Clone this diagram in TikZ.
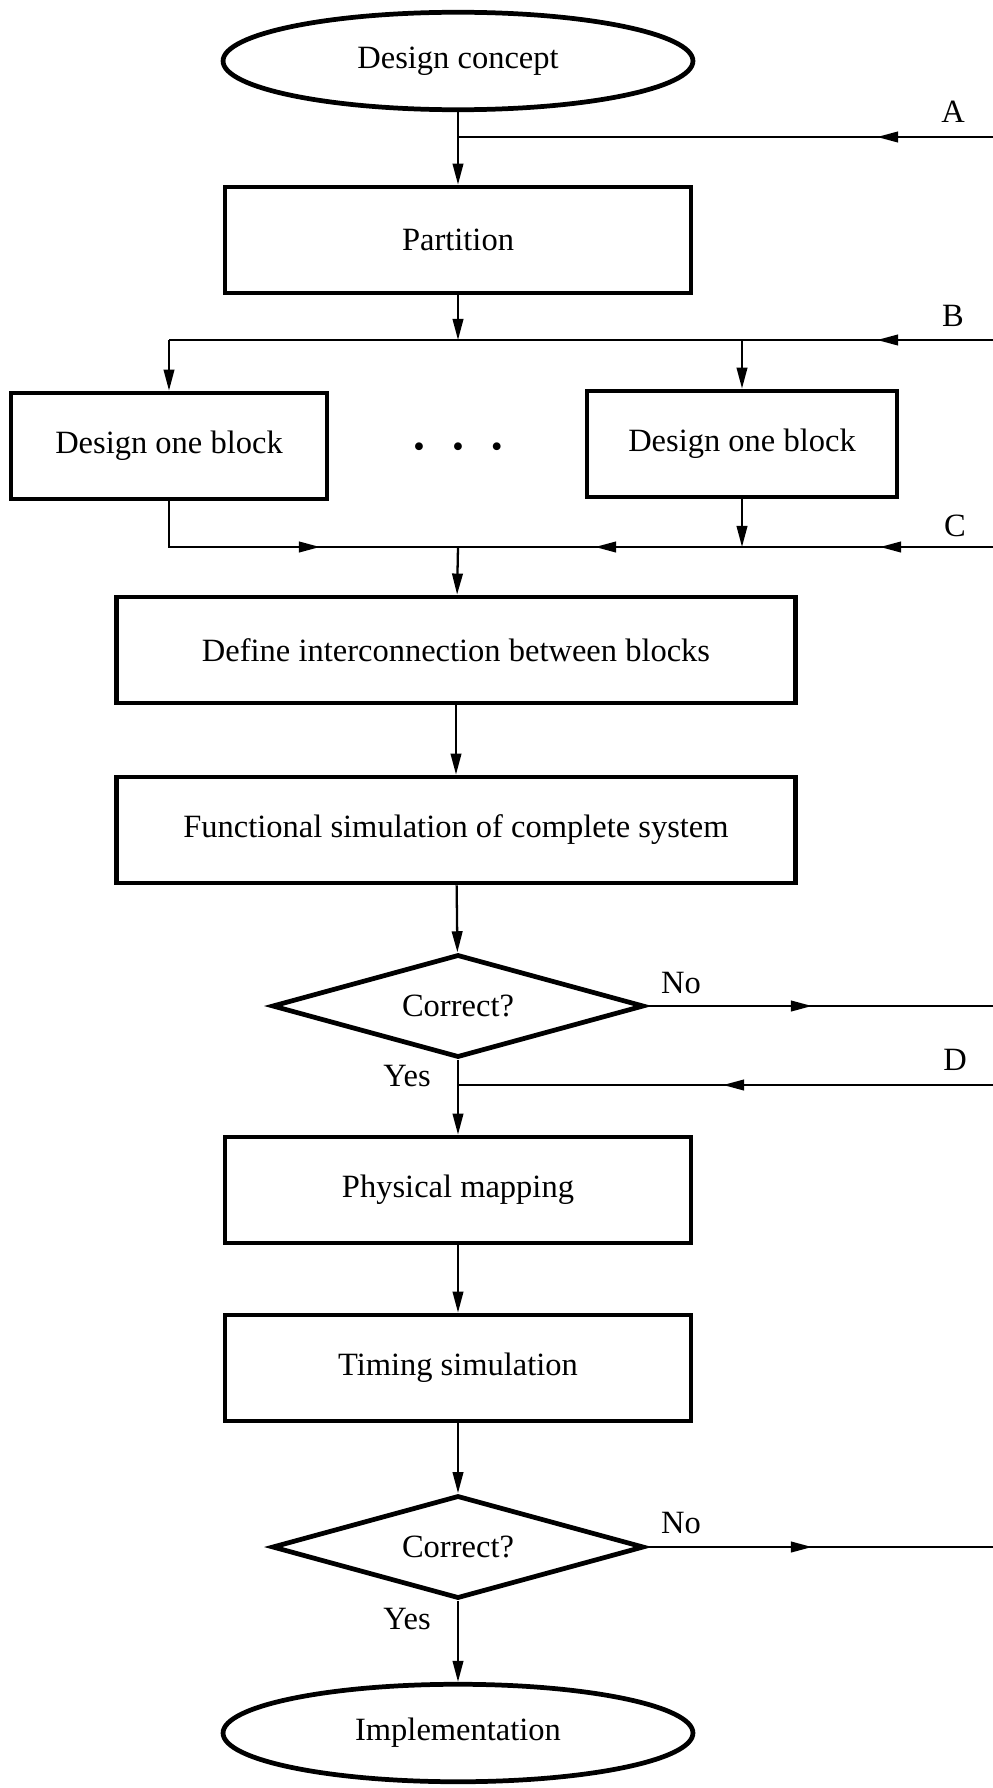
\documentclass[tikz,border=0pt]{standalone}
\usepackage{fontspec}
\setmainfont{Liberation Serif}
\usetikzlibrary{shapes.geometric,arrows.meta}

\tikzset{
  box/.style={draw, rectangle, line width=2.7pt, minimum width=9.32cm, minimum height=2.12cm, inner sep=0pt},
  term/.style={draw, ellipse, line width=2.7pt, minimum width=9.4cm, minimum height=1.95cm, inner sep=0pt},
  test/.style={draw, diamond, aspect=3.6, line width=2.7pt, minimum width=7.44cm, minimum height=2.06cm, inner sep=0pt},
  wire/.style={line width=1.3pt},
  flow/.style={wire, -{Triangle[length=12pt,width=6pt]}},
  tag/.style={inner sep=0pt},
}

\begin{document}
\begin{tikzpicture}[x=0.02cm, y=-0.02cm, font=\fontsize{18.5}{22}\selectfont]
      \useasboundingbox (0,0) rectangle (993,1788);
      % Blocks:
      \node[term](concept) at (458,61){Design concept};
      \node[box](part) at (458,240){Partition};
      \node[box, minimum width=6.32cm](blkL) at (169,446){Design one block};
      \node[tag](dots) at (458,450){\textbullet\hspace{0.55cm}\textbullet\hspace{0.55cm}\textbullet};
      \node[box, minimum width=6.2cm](blkR) at (742,444){Design one block};
      \node[box, minimum width=13.58cm](defn) at (456,650){Define interconnection between blocks};
      \node[box, minimum width=13.58cm](func) at (456,830){Functional simulation of complete system};
      \node[test](chkA) at (458,1006){Correct?};
      \node[box](phys) at (458,1190){Physical mapping};
      \node[box](timing) at (458,1368){Timing simulation};
      \node[test](chkB) at (458,1547){Correct?};
      \node[term](impl) at (458,1733){Implementation};

      % Joints and free ends on the right edge:
      \coordinate (Ain) at (993,137);   \coordinate (Ajoin) at (458,137);  \coordinate (Atip) at (877,137);
      \coordinate (Bin) at (993,340);   \coordinate (Bjoin) at (458,340);  \coordinate (Btip) at (877,340);
      \coordinate (BL) at (169,340);    \coordinate (BR) at (742,340);
      \coordinate (Cin) at (993,547);   \coordinate (Cjoin) at (458,547);  \coordinate (Ctip) at (880,547);
      \coordinate (Cmid) at (595,547);  \coordinate (CL) at (169,547);     \coordinate (CLtip) at (320,547);
      \coordinate (CR) at (742,547);
      \coordinate (Din) at (993,1085);  \coordinate (Djoin) at (458,1085); \coordinate (Dtip) at (723,1085);
      \coordinate (NoA) at (993,1006);  \coordinate (NoAtip) at (812,1006);
      \coordinate (NoB) at (993,1547);  \coordinate (NoBtip) at (812,1547);

      % Wires:
      \draw[flow] (concept) -- (part);
      \draw[wire] (Ain) -- (Ajoin);
      \draw[flow] (Ain) -- (Atip);
      \draw[flow] (part) -- (Bjoin);
      \draw[wire] (Bin) -- (BL);
      \draw[flow] (Bin) -- (Btip);
      \draw[flow] (BL) -- (blkL);
      \draw[flow] (BR) -- (blkR);
      \draw[wire] (blkL) |- (Cjoin);
      \draw[flow] (CL) -- (CLtip);
      \draw[flow] (blkR) -- (CR);
      \draw[wire] (Cin) -- (Cjoin);
      \draw[flow] (Cin) -- (Ctip);
      \draw[flow] (Cin) -- (Cmid);
      \draw[flow] (Cjoin) -- (defn);
      \draw[flow] (defn) -- (func);
      \draw[flow] (func) -- (chkA);
      \draw[wire] (chkA.east) -- (NoA);
      \draw[flow] (chkA.east) -- (NoAtip);
      \draw[flow] (chkA) -- (phys);
      \draw[wire] (Din) -- (Djoin);
      \draw[flow] (Din) -- (Dtip);
      \draw[flow] (phys) -- (timing);
      \draw[flow] (timing) -- (chkB);
      \draw[wire] (chkB.east) -- (NoB);
      \draw[flow] (chkB.east) -- (NoBtip);
      \draw[flow] (chkB) -- (impl);

      % Labels:
      \node[tag](labA) at (953,112){A};
      \node[tag](labB) at (953,316){B};
      \node[tag](labC) at (955,526){C};
      \node[tag](labD) at (955,1060){D};
      \node[tag](noA) at (681,983){No};
      \node[tag](yesA) at (407,1076){Yes};
      \node[tag](noB) at (681,1523){No};
      \node[tag](yesB) at (407,1619){Yes};
    \end{tikzpicture}
\end{document}
